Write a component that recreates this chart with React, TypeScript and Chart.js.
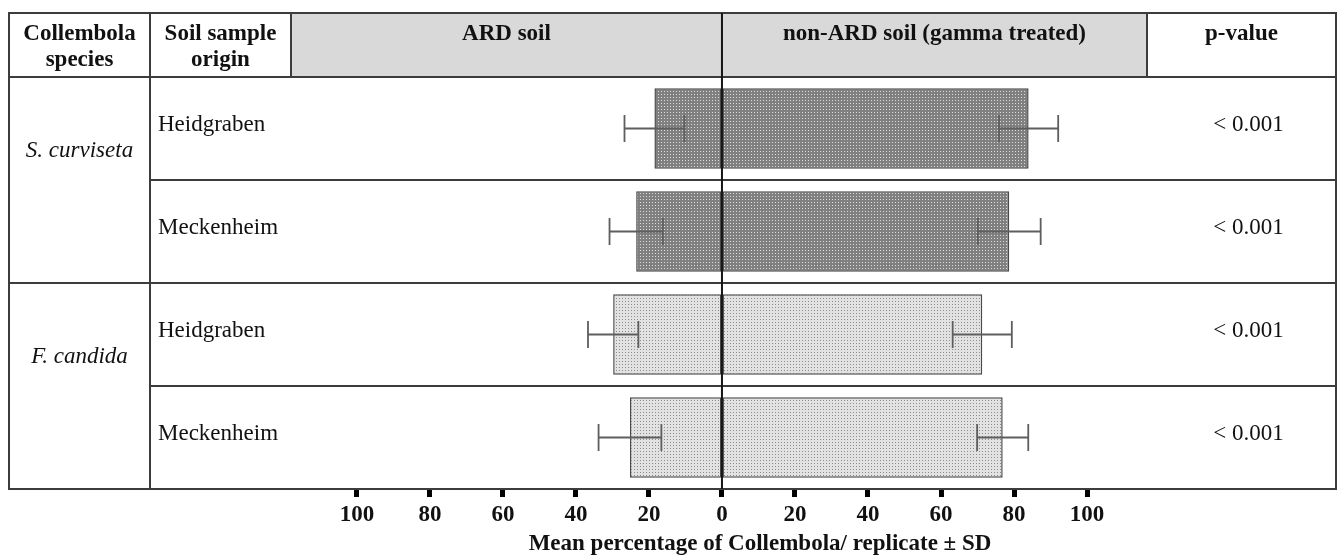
import React, { useEffect, useRef } from 'react';
import { Chart, registerables } from 'chart.js';

Chart.register(...registerables);

// ---------- data ----------
const speciesNames = ['S. curviseta', 'F. candida'];
const speciesOfRow = [0, 0, 1, 1];
const origins = ['Heidgraben', 'Meckenheim', 'Heidgraben', 'Meckenheim'];
const ardMean = [18.5, 23.5, 29.8, 25.2];
const ardSD = [8.2, 7.3, 6.9, 8.6];
const nonArdMean = [84.0, 78.7, 71.3, 76.9];
const nonArdSD = [8.1, 8.6, 8.1, 7.0];
const pValues = ['< 0.001', '< 0.001', '< 0.001', '< 0.001'];
const tickValues = [-100, -80, -60, -40, -20, 0, 20, 40, 60, 80, 100];
const headerSpecies = ['Collembola', 'species'];
const headerOrigin = ['Soil sample', 'origin'];
const headerArd = 'ARD soil';
const headerNonArd = 'non-ARD soil (gamma treated)';
const headerP = 'p-value';
const axisTitle = 'Mean percentage of Collembola/ replicate \u00b1 SD';

// ---------- layout constants ----------
const W = 1339;
const H = 555;
const TABLE_TOP = 13;
const COL_ORIGIN = 150;
const COL_ARD = 291;
const COL_P = 1147;
const SERIF = '"Liberation Serif", "Times New Roman", serif';
const LINE = '#3c3c3c';
const TEXT = '#111111';

function makePattern(bg: string, dot: string): CanvasPattern | string {
  const c = document.createElement('canvas');
  c.width = 3;
  c.height = 3;
  const g = c.getContext('2d');
  if (!g) return bg;
  g.fillStyle = bg;
  g.fillRect(0, 0, 3, 3);
  g.fillStyle = dot;
  g.fillRect(1, 1, 1, 1);
  const p = g.createPattern(c, 'repeat');
  return p || bg;
}

const tablePlugin = {
  id: 'tableFrame',
  afterDatasetsDraw(chart: any) {
    const { ctx, chartArea: ca, scales } = chart;
    const x = scales.x;
    const y = scales.y;
    const L = ca.left;
    const R = ca.right;
    const HB = ca.top;
    const B = ca.bottom;
    const x0 = x.getPixelForValue(0);
    const half = (y.getPixelForValue(1) - y.getPixelForValue(0)) / 2;
    const centers = origins.map((_, i) => y.getPixelForValue(i));

    ctx.save();
    // header grey band
    ctx.fillStyle = '#d9d9d9';
    ctx.fillRect(COL_ARD, TABLE_TOP, COL_P - COL_ARD, HB - TABLE_TOP);

    // error bars
    ctx.strokeStyle = '#5e5e5e';
    ctx.lineWidth = 1.8;
    const capH = 13.5;
    const drawErr = (cy: number, lo: number, hi: number) => {
      const a = x.getPixelForValue(lo);
      const b = x.getPixelForValue(hi);
      ctx.beginPath();
      ctx.moveTo(a, cy);
      ctx.lineTo(b, cy);
      ctx.moveTo(a, cy - capH);
      ctx.lineTo(a, cy + capH);
      ctx.moveTo(b, cy - capH);
      ctx.lineTo(b, cy + capH);
      ctx.stroke();
    };
    const m0 = chart.getDatasetMeta(0);
    const m1 = chart.getDatasetMeta(1);
    origins.forEach((_, i) => {
      const cy0 = m0.data[i].y;
      const cy1 = m1.data[i].y;
      drawErr(cy0, -(ardMean[i] + ardSD[i]), -(ardMean[i] - ardSD[i]));
      drawErr(cy1, nonArdMean[i] - nonArdSD[i], nonArdMean[i] + nonArdSD[i]);
    });

    // table lines
    ctx.strokeStyle = LINE;
    ctx.lineWidth = 2;
    ctx.strokeRect(L, TABLE_TOP, R - L, B - TABLE_TOP);
    ctx.beginPath();
    ctx.moveTo(L, HB);
    ctx.lineTo(R, HB);
    ctx.moveTo(COL_ORIGIN, TABLE_TOP);
    ctx.lineTo(COL_ORIGIN, B);
    ctx.moveTo(COL_ARD, TABLE_TOP);
    ctx.lineTo(COL_ARD, HB);
    ctx.moveTo(COL_P, TABLE_TOP);
    ctx.lineTo(COL_P, HB);
    for (let i = 0; i < origins.length - 1; i++) {
      const yy = centers[i] + half;
      const startX = speciesOfRow[i] !== speciesOfRow[i + 1] ? L : COL_ORIGIN;
      ctx.moveTo(startX, yy);
      ctx.lineTo(R, yy);
    }
    ctx.stroke();

    // zero line
    ctx.strokeStyle = '#151515';
    ctx.lineWidth = 2;
    ctx.beginPath();
    ctx.moveTo(x0, TABLE_TOP);
    ctx.lineTo(x0, B);
    ctx.stroke();

    // header text
    ctx.fillStyle = TEXT;
    ctx.textBaseline = 'alphabetic';
    ctx.textAlign = 'center';
    ctx.font = `bold 23px ${SERIF}`;
    const spCx = (L + COL_ORIGIN) / 2;
    const orCx = (COL_ORIGIN + COL_ARD) / 2;
    ctx.fillText(headerSpecies[0], spCx, 40);
    ctx.fillText(headerSpecies[1], spCx, 65.5);
    ctx.fillText(headerOrigin[0], orCx, 40);
    ctx.fillText(headerOrigin[1], orCx, 65.5);
    ctx.fillText(headerArd, (COL_ARD + x0) / 2, 40);
    ctx.fillText(headerNonArd, (x0 + COL_P) / 2, 40);
    ctx.fillText(headerP, (COL_P + R) / 2, 40);

    // row text
    ctx.font = `23px ${SERIF}`;
    origins.forEach((o, i) => {
      ctx.textAlign = 'left';
      ctx.fillText(o, COL_ORIGIN + 8, centers[i] + 2.5);
      ctx.textAlign = 'center';
      ctx.fillText(pValues[i], (COL_P + R) / 2 + 7, centers[i] + 2.5);
    });

    // species labels
    ctx.font = `italic 23px ${SERIF}`;
    ctx.textAlign = 'center';
    speciesNames.forEach((s, k) => {
      const rows = speciesOfRow.map((v, i) => (v === k ? i : -1)).filter((i) => i >= 0);
      const cy = rows.reduce((acc, i) => acc + centers[i], 0) / rows.length;
      ctx.fillText(s, spCx, cy - 23);
    });

    // axis title
    ctx.font = `bold 23px ${SERIF}`;
    ctx.textAlign = 'center';
    ctx.fillText(axisTitle, 760, 550);
    ctx.restore();
  },
};

export default function App() {
  const ref = useRef<HTMLCanvasElement | null>(null);

  useEffect(() => {
    if (!ref.current) return;
    const dark = makePattern('#808080', '#dcdcdc');
    const light = makePattern('#e2e2e2', '#8c8c8c');
    const fills = speciesOfRow.map((s) => (s === 0 ? dark : light));

    const chart = new Chart(ref.current, {
      type: 'bar',
      data: {
        labels: origins.map((o, i) => `${speciesNames[speciesOfRow[i]]} – ${o}`),
        datasets: [
          {
            label: 'ARD soil',
            data: ardMean.map((v) => -v),
            backgroundColor: fills as any,
            borderColor: '#4a4a4a',
            borderWidth: 1.5,
            borderSkipped: false,
            barPercentage: 0.78,
            categoryPercentage: 1,
          },
          {
            label: 'non-ARD soil (gamma treated)',
            data: nonArdMean,
            backgroundColor: fills as any,
            borderColor: '#4a4a4a',
            borderWidth: 1.5,
            borderSkipped: false,
            barPercentage: 0.78,
            categoryPercentage: 1,
          },
        ],
      },
      options: {
        indexAxis: 'y',
        responsive: false,
        animation: false,
        layout: { padding: { top: 77, left: 9, right: 3, bottom: 0 } },
        plugins: {
          legend: { display: false },
          tooltip: { enabled: false },
          title: { display: false },
        },
        scales: {
          y: {
            type: 'category',
            display: false,
            stacked: true,
          },
          x: {
            type: 'linear',
            stacked: true,
            min: -195.3,
            max: 168.2,
            afterBuildTicks: (scale: any) => {
              scale.ticks = tickValues.map((v) => ({ value: v }));
            },
            afterFit: (scale: any) => {
              scale.height = 66;
            },
            border: { display: false },
            grid: {
              drawOnChartArea: false,
              drawTicks: true,
              tickLength: 8,
              tickWidth: 5,
              tickColor: '#000000',
            },
            ticks: {
              padding: 4,
              color: TEXT,
              font: { family: SERIF, size: 23, weight: 'bold' },
              maxRotation: 0,
              autoSkip: false,
              callback: (v: any) => String(Math.abs(Number(v))),
            },
          },
        },
      },
      plugins: [tablePlugin],
    });
    return () => chart.destroy();
  }, []);

  return (
    <div style={{ position: 'absolute', left: 0, top: 0, width: W, height: H, background: '#ffffff' }}>
      <canvas ref={ref} width={W} height={H} style={{ display: 'block' }} />
    </div>
  );
}
